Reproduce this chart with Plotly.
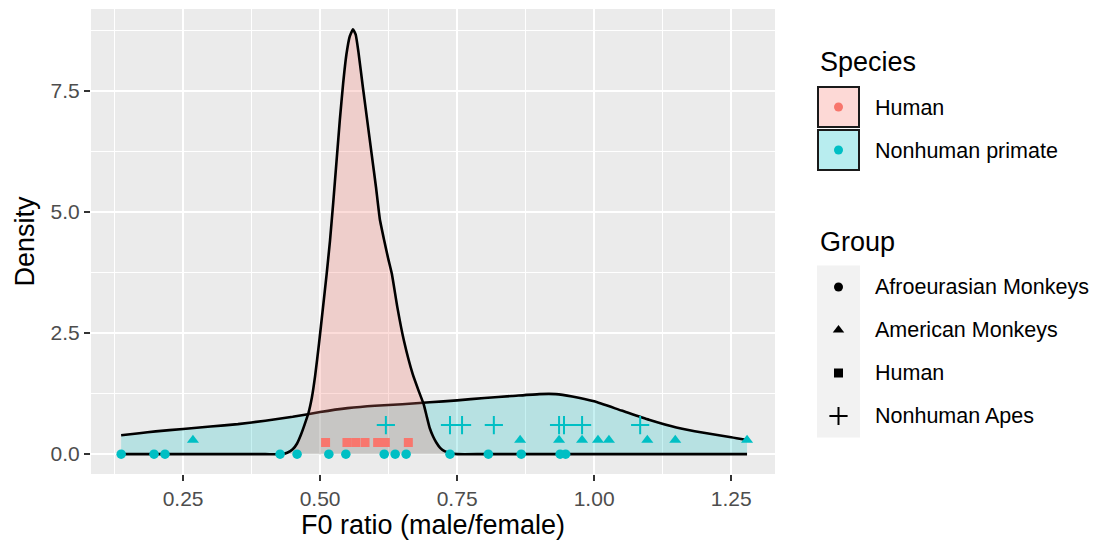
import plotly.graph_objects as go

# ---------------- data ----------------
# Kernel density curves (x, density)
nonhuman_dens_x = [0.137, 0.17, 0.20, 0.25, 0.30, 0.35, 0.40, 0.45, 0.50, 0.55, 0.60, 0.65,
                   0.70, 0.75, 0.80, 0.85, 0.90, 0.93, 0.96, 1.00, 1.05, 1.10, 1.15, 1.20,
                   1.25, 1.279]
nonhuman_dens_y = [0.39, 0.43, 0.47, 0.52, 0.57, 0.62, 0.69, 0.77, 0.87, 0.95, 1.00, 1.03,
                   1.07, 1.11, 1.16, 1.20, 1.24, 1.24, 1.19, 1.09, 0.90, 0.71, 0.55, 0.44,
                   0.35, 0.29]

human_dens_x = [0.137, 0.40, 0.43, 0.44, 0.45, 0.458, 0.465, 0.472, 0.479, 0.485, 0.491,
                0.498, 0.505, 0.512, 0.518, 0.524, 0.530, 0.536, 0.542, 0.548, 0.554,
                0.560, 0.565, 0.570, 0.578, 0.586, 0.594, 0.602, 0.609, 0.617, 0.624,
                0.631, 0.641, 0.653, 0.669, 0.680, 0.689, 0.695, 0.700, 0.706, 0.712,
                0.719, 0.727, 0.737, 0.75, 0.80, 1.279]
human_dens_y = [0.0, 0.0, 0.0, 0.03, 0.10, 0.22, 0.40, 0.62, 0.86, 1.17, 1.62,
                2.28, 3.00, 3.72, 4.40, 5.20, 6.05, 6.90, 7.65, 8.25, 8.62,
                8.77, 8.66, 8.30, 7.58, 6.89, 6.20, 5.51, 4.85, 4.41, 4.05,
                3.72, 3.03, 2.34, 1.65, 1.30, 1.03, 0.76, 0.54, 0.37, 0.24,
                0.13, 0.06, 0.02, 0.0, 0.0, 0.0]

# Individual observations (F0 ratio) by group, with their plotted height
afro_x = [0.137, 0.197, 0.217, 0.427, 0.458, 0.516, 0.547, 0.617, 0.637, 0.657,
          0.737, 0.807, 0.867, 0.938, 0.948]
afro_y = [0.0] * len(afro_x)

american_x = [0.268, 0.865, 0.936, 0.978, 1.007, 1.027, 1.097, 1.148, 1.279]
american_y = [0.29] * len(american_x)

human_x = [0.510, 0.549, 0.565, 0.582, 0.605, 0.619, 0.661]
human_y = [0.24] * len(human_x)

apes_x = [0.620, 0.737, 0.759, 0.817, 0.936, 0.945, 0.978, 1.084]
apes_y = [0.60] * len(apes_x)

species_labels = ["Human", "Nonhuman primate"]
group_labels = ["Afroeurasian Monkeys", "American Monkeys", "Human", "Nonhuman Apes"]

x_tickvals = [0.25, 0.50, 0.75, 1.00, 1.25]
y_tickvals = [0.0, 2.5, 5.0, 7.5]

# ---------------- styling ----------------
HUMAN_COL = "#F8766D"
NONHUMAN_COL = "#00BFC4"
ALPHA = 0.22
FONT = "Liberation Sans, Arial, Helvetica, sans-serif"

def rgba(hex_col, a):
    h = hex_col.lstrip("#")
    r, g, b = int(h[0:2], 16), int(h[2:4], 16), int(h[4:6], 16)
    return f"rgba({r},{g},{b},{a})"

W, H = 1095, 540
ML, MR, MT, MB = 91, 0, 9, 66
PLOT_W = W - ML - MR
PANEL_RIGHT = 775
LEG_LEFT = 795

fig = go.Figure()

# density areas (nonhuman first, human on top so the overlap turns grey)
fig.add_trace(go.Scatter(
    x=nonhuman_dens_x, y=nonhuman_dens_y, mode="lines", fill="tozeroy",
    fillcolor=rgba(NONHUMAN_COL, ALPHA),
    line=dict(color="black", width=2.6, shape="spline", smoothing=0.5),
    hoverinfo="skip", showlegend=False))
fig.add_trace(go.Scatter(
    x=human_dens_x, y=human_dens_y, mode="lines", fill="tozeroy",
    fillcolor=rgba(HUMAN_COL, ALPHA + 0.03),
    line=dict(color="black", width=2.6, shape="spline", smoothing=0.4),
    hoverinfo="skip", showlegend=False))

# points
fig.add_trace(go.Scatter(x=afro_x, y=afro_y, mode="markers",
                         marker=dict(symbol="circle", size=9.5, color=NONHUMAN_COL),
                         showlegend=False, hoverinfo="skip"))
fig.add_trace(go.Scatter(x=american_x, y=american_y, mode="markers",
                         marker=dict(symbol="triangle-up", size=10.5, color=NONHUMAN_COL),
                         showlegend=False, hoverinfo="skip"))
fig.add_trace(go.Scatter(x=human_x, y=human_y, mode="markers",
                         marker=dict(symbol="square", size=9, color=HUMAN_COL),
                         showlegend=False, hoverinfo="skip"))
fig.add_trace(go.Scatter(x=apes_x, y=apes_y, mode="markers",
                         marker=dict(symbol="cross-thin", size=13,
                                     line=dict(color=NONHUMAN_COL, width=2)),
                         showlegend=False, hoverinfo="skip"))

# ---------------- legend (drawn on a hidden pixel-coordinate axis pair) ----------------
sp_key_y = [107, 150]
sp_cols = [HUMAN_COL, NONHUMAN_COL]
grp_key_y = [287, 330, 373, 416]
grp_symbols = ["circle", "triangle-up", "square", "cross-thin"]
grp_sizes = [9, 10, 9, 13]
KEY_CX = 838.5
TEXT_X = 873

shapes = [dict(type="rect", xref="x domain", yref="y domain", x0=0, x1=1, y0=0, y1=1,
               fillcolor="#EBEBEB", line=dict(width=0), layer="below")]
for yc, col in zip(sp_key_y, sp_cols):
    shapes.append(dict(type="rect", xref="x2", yref="y2", x0=818, x1=859,
                       y0=yc - 20, y1=yc + 20, fillcolor=rgba(col, 0.28),
                       line=dict(color="#1a1a1a", width=2)))
shapes.append(dict(type="rect", xref="x2", yref="y2", x0=817, x1=860,
                   y0=grp_key_y[0] - 21.5, y1=grp_key_y[-1] + 21.5,
                   fillcolor="#F2F2F2", line=dict(width=0), layer="below"))

fig.add_trace(go.Scatter(x=[KEY_CX] * 2, y=sp_key_y, mode="markers",
                         marker=dict(symbol="circle", size=9, color=sp_cols),
                         xaxis="x2", yaxis="y2", showlegend=False, hoverinfo="skip"))
for yc, sym, sz in zip(grp_key_y, grp_symbols, grp_sizes):
    fig.add_trace(go.Scatter(x=[KEY_CX], y=[yc], mode="markers",
                             marker=dict(symbol=sym, size=sz, color="black",
                                         line=dict(color="black", width=2 if sym == "cross-thin" else 0)),
                             xaxis="x2", yaxis="y2", showlegend=False, hoverinfo="skip"))

annotations = [
    dict(text="Species", x=818, y=62, xref="x2", yref="y2", xanchor="left", yanchor="middle",
         showarrow=False, font=dict(size=27, color="black", family=FONT)),
    dict(text="Group", x=818, y=242, xref="x2", yref="y2", xanchor="left", yanchor="middle",
         showarrow=False, font=dict(size=27, color="black", family=FONT)),
]
for lab, yc in zip(species_labels, sp_key_y):
    annotations.append(dict(text=lab, x=TEXT_X, y=yc + 1, xref="x2", yref="y2",
                            xanchor="left", yanchor="middle", showarrow=False,
                            font=dict(size=21.5, color="black", family=FONT)))
for lab, yc in zip(group_labels, grp_key_y):
    annotations.append(dict(text=lab, x=TEXT_X, y=yc, xref="x2", yref="y2",
                            xanchor="left", yanchor="middle", showarrow=False,
                            font=dict(size=21.5, color="black", family=FONT)))

fig.update_layout(
    width=W, height=H,
    margin=dict(l=ML, r=MR, t=MT, b=MB, pad=0),
    paper_bgcolor="white", plot_bgcolor="white",
    font=dict(family=FONT, color="black"),
    showlegend=False,
    shapes=shapes, annotations=annotations,
    xaxis=dict(
        domain=[0, (PANEL_RIGHT - ML) / PLOT_W],
        range=[0.082, 1.330], tickvals=x_tickvals, tickformat=".2f",
        showgrid=True, gridcolor="white", gridwidth=1.8,
        minor=dict(dtick=0.125, tick0=0, showgrid=True, gridcolor="white", gridwidth=0.9,
                   ticks=""),
        ticks="outside", ticklen=6, tickwidth=1.6, tickcolor="#333333",
        tickfont=dict(size=21, color="#4D4D4D", family=FONT),
        zeroline=False, showline=False, automargin=False,
        title=dict(text="F0 ratio (male/female)", font=dict(size=27, color="black", family=FONT),
                   standoff=4),
        fixedrange=True,
    ),
    yaxis=dict(
        domain=[0, 1],
        range=[-0.41, 9.19], tickvals=y_tickvals, tickformat=".1f",
        showgrid=True, gridcolor="white", gridwidth=1.8,
        minor=dict(dtick=1.25, tick0=0, showgrid=True, gridcolor="white", gridwidth=0.9,
                   ticks=""),
        ticks="outside", ticklen=6, tickwidth=1.6, tickcolor="#333333",
        tickfont=dict(size=21, color="#4D4D4D", family=FONT),
        zeroline=False, showline=False, automargin=False,
        title=dict(text="Density", font=dict(size=27, color="black", family=FONT), standoff=8),
        fixedrange=True,
    ),
    xaxis2=dict(domain=[(LEG_LEFT - ML) / PLOT_W, 1], range=[LEG_LEFT, W], visible=False,
                fixedrange=True, anchor="y2"),
    yaxis2=dict(domain=[0, 1], range=[H - MB, MT], visible=False, fixedrange=True, anchor="x2"),
)

fig.write_html(
    "out.html",
    config={"displayModeBar": False},
    post_script="document.body.style.margin='0';document.body.style.overflow='hidden';",
)
